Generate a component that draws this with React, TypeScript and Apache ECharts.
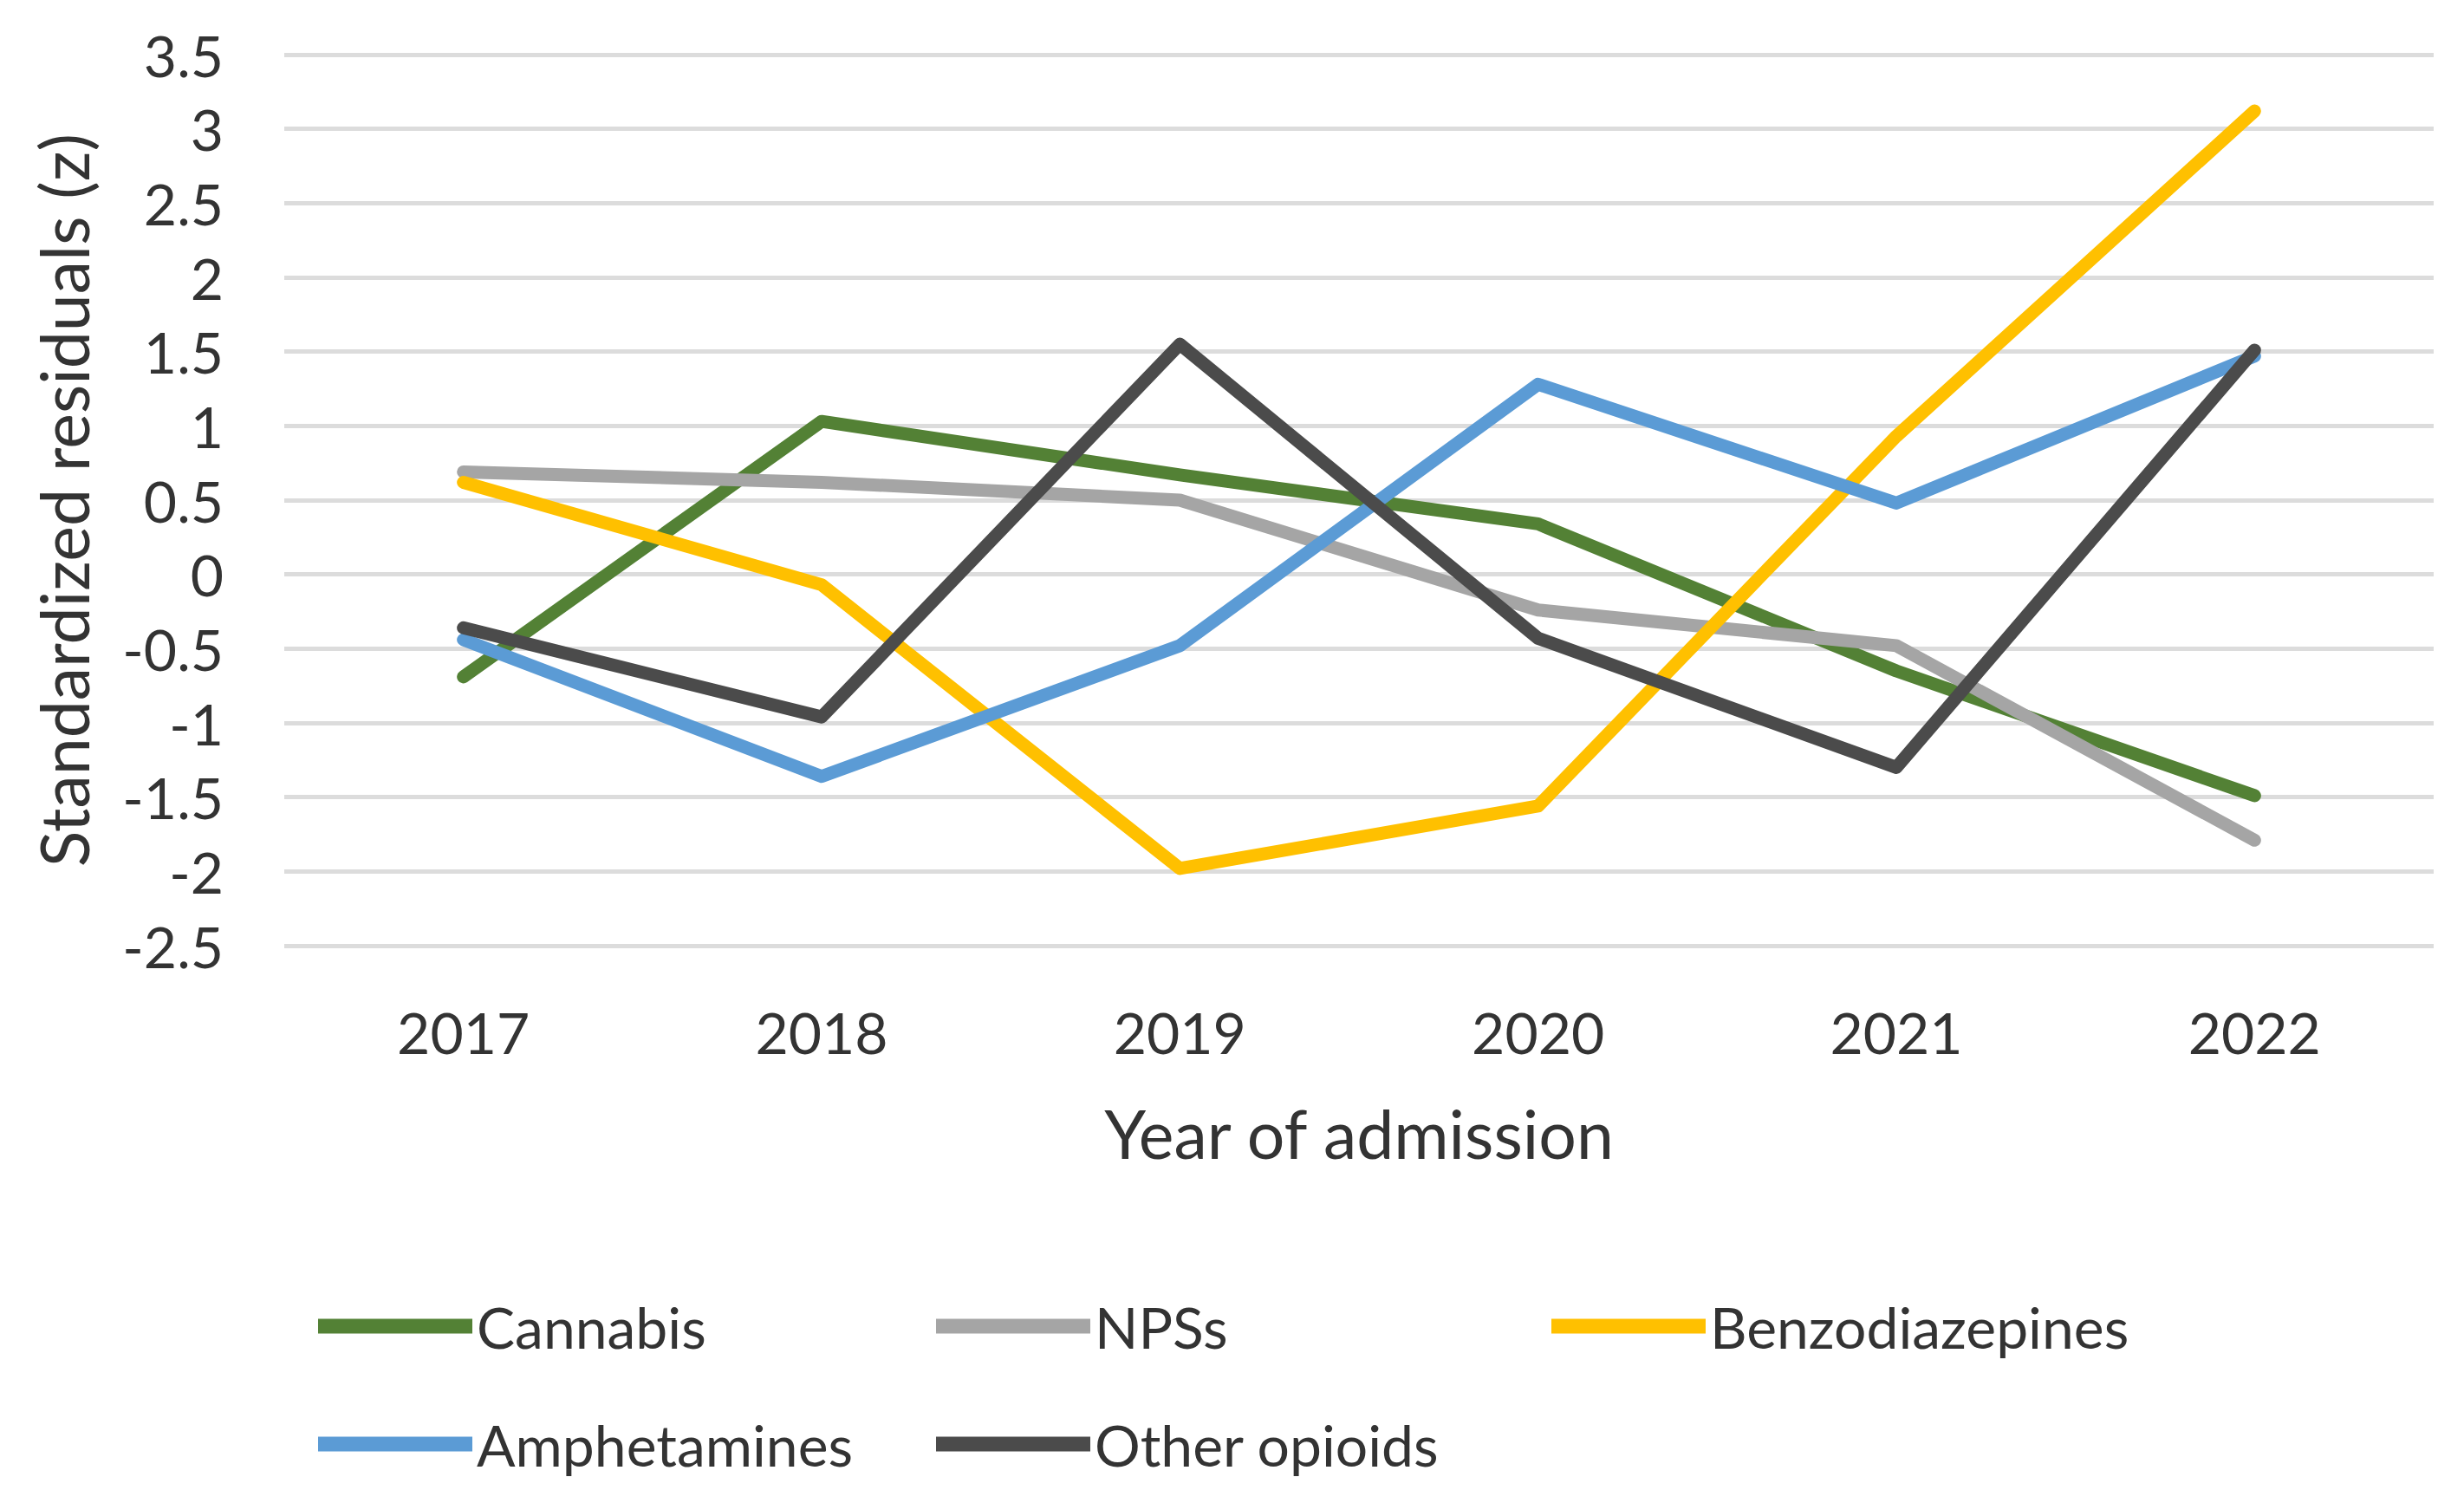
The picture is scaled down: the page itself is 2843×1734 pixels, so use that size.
import React, { useEffect, useRef } from "react";
import * as echarts from "echarts";

const years = ["2017", "2018", "2019", "2020", "2021", "2022"];
const cannabis = [-0.69, 1.03, 0.67, 0.34, -0.65, -1.49];
const npss = [0.69, 0.62, 0.5, -0.24, -0.48, -1.79];
const benzodiazepines = [0.62, -0.07, -1.98, -1.56, 0.93, 3.12];
const amphetamines = [-0.44, -1.36, -0.48, 1.28, 0.48, 1.47];
const otherOpioids = [-0.36, -0.96, 1.55, -0.43, -1.3, 1.51];

const seriesNames = ["Cannabis", "NPSs", "Benzodiazepines", "Amphetamines", "Other opioids"];
const seriesData = [cannabis, npss, benzodiazepines, amphetamines, otherOpioids];
const seriesColors = ["#538135", "#A5A5A5", "#FFC000", "#5B9BD5", "#4B4B4B"];

const FONT = "Lato";
const TEXT = "#333333";

export default function App() {
  const ref = useRef<HTMLDivElement>(null);
  useEffect(() => {
    if (!ref.current) return;
    const chart = echarts.init(ref.current, undefined, { renderer: "svg" });
    const legendPos = [
      { left: 362, top: 1485 },
      { left: 1075, top: 1485 },
      { left: 1785, top: 1485 },
      { left: 362, top: 1621 },
      { left: 1075, top: 1621 },
    ];
    chart.setOption({
      animation: false,
      backgroundColor: "#ffffff",
      grid: { left: 328, right: 35, top: 63, bottom: 643, containLabel: false },
      legend: seriesNames.map((n, i) => ({
        data: [n],
        left: legendPos[i].left,
        top: legendPos[i].top,
        icon: "rect",
        itemWidth: 178,
        itemHeight: 17,
        textStyle: { fontFamily: FONT, fontSize: 66, color: TEXT, lineHeight: 80 },
      })),
      xAxis: {
        type: "category",
        data: years,
        boundaryGap: true,
        axisLine: { show: false },
        axisTick: { show: false },
        axisLabel: { fontFamily: FONT, fontSize: 66, color: TEXT, margin: 66 },
        name: "Year of admission",
        nameLocation: "middle",
        nameGap: 177,
        nameTextStyle: { fontFamily: FONT, fontSize: 77, color: TEXT },
      },
      yAxis: {
        type: "value",
        min: -2.5,
        max: 3.5,
        interval: 0.5,
        axisLine: { show: false },
        axisTick: { show: false },
        splitLine: { lineStyle: { color: "#DCDCDC", width: 5 } },
        axisLabel: { fontFamily: FONT, fontSize: 66, color: TEXT, margin: 70 },
        name: "Standardized residuals (z)",
        nameLocation: "middle",
        nameGap: 217,
        nameTextStyle: { fontFamily: FONT, fontSize: 77, color: TEXT },
      },
      series: seriesNames.map((n, i) => ({
        name: n,
        type: "line",
        data: seriesData[i],
        symbol: "none",
        color: seriesColors[i],
        lineStyle: { width: 15, color: seriesColors[i], cap: "round", join: "round" },
      })),
    });
    return () => chart.dispose();
  }, []);
  return (
    <div
      ref={ref}
      style={{ position: "fixed", left: 0, top: 0, width: "2843px", height: "1734px" }}
    />
  );
}
